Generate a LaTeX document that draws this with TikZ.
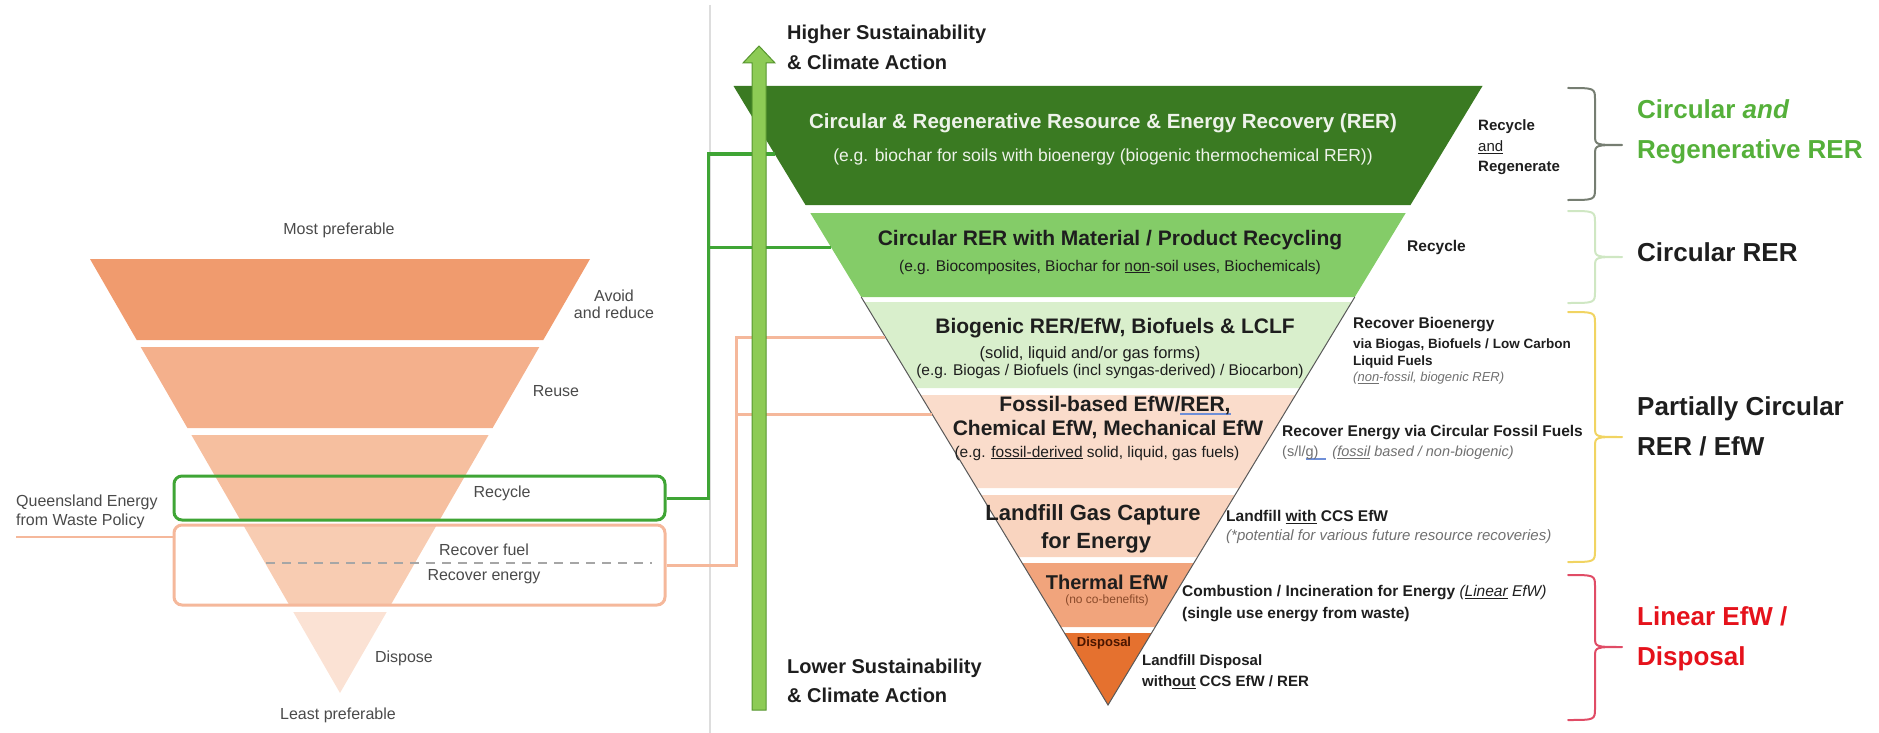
\documentclass[tikz,border=0pt]{standalone}
\usepackage{fontspec}
\setmainfont{Liberation Sans}
\usepackage{tikz}

\definecolor{lb1}{HTML}{F09B6E}
\definecolor{lb2}{HTML}{F4B08C}
\definecolor{lb3}{HTML}{F6BF9F}
\definecolor{lb4}{HTML}{F8CCB2}
\definecolor{lb5}{HTML}{FBE2D4}
\definecolor{rb1}{HTML}{3A7A22}
\definecolor{rb2}{HTML}{84CC68}
\definecolor{rb3}{HTML}{D9EFCC}
\definecolor{rb4}{HTML}{FADCCB}
\definecolor{rb5}{HTML}{F9D4BF}
\definecolor{rb6}{HTML}{F1A47C}
\definecolor{rb7}{HTML}{E5712F}
\definecolor{boxgreen}{HTML}{3FA535}
\definecolor{boxorange}{HTML}{F5B89B}
\definecolor{arrowgreen}{HTML}{8DCB55}
\definecolor{arrowedge}{HTML}{57962F}
\definecolor{lefttxt}{HTML}{4A4A4A}
\definecolor{ink}{HTML}{1E1E1E}
\definecolor{paletxt}{HTML}{EEF3EA}
\definecolor{itgray}{HTML}{707070}
\definecolor{labgreen}{HTML}{55B03A}
\definecolor{labred}{HTML}{E5121B}
\definecolor{spellblue}{HTML}{6F8FD8}
\definecolor{divgray}{HTML}{DDDDDD}
\definecolor{bracegray}{HTML}{767E72}
\definecolor{bracegreen}{HTML}{CFE7C3}
\definecolor{braceyellow}{HTML}{F1D462}
\definecolor{bracered}{HTML}{E04C66}
\definecolor{brownish}{HTML}{8A4A2A}
\definecolor{disptxt}{HTML}{4A1600}

\newcommand{\fs}[1]{\fontsize{#1}{#1}\selectfont}
\newcommand{\blueul}[1]{\sbox0{#1}\rlap{\textcolor{spellblue}{\rule[-3pt]{\wd0}{1.5pt}}}#1}

\begin{document}
\begin{tikzpicture}[x=1pt,y=-1pt,
  every node/.style={inner sep=0pt},
  plbl/.style={text=lefttxt,font=\fs{16}},
  ttl/.style={text=ink,font=\bfseries\fs{21}},
  sub/.style={text=ink,font=\fs{15.5}},
  side/.style={anchor=west,text=ink,font=\bfseries\fs{15.5}},
  sideit/.style={anchor=west,text=itgray,font=\itshape\fs{14.5}},
  biglbl/.style={anchor=west,align=left,font=\bfseries\fontsize{26}{40}\selectfont},
  gline/.style={draw=boxgreen,line width=3pt},
  oline/.style={draw=boxorange,line width=3pt},
  brace/.style={line width=2pt,line cap=round,line join=round},
  pedge/.style={draw=black!65,line width=1pt}]
\useasboundingbox (0,0) rectangle (1879,733);

\fill[lb1] (90,259) -- (590,259) -- (543.3,340) -- (136.7,340) -- cycle;
\fill[lb2] (140.7,347) -- (539.3,347) -- (492.6,428) -- (187.4,428) -- cycle;
\fill[lb3] (191.4,435) -- (488.6,435) -- (440.2,519) -- (239.8,519) -- cycle;
\fill[lb4] (243.8,526) -- (436.2,526) -- (390.7,605) -- (289.3,605) -- cycle;
\fill[lb5] (293.3,612) -- (386.7,612) -- (340,693) -- cycle;

\node[draw=boxorange,line width=3pt,rounded corners=8pt,minimum width=491pt,minimum height=80pt] (recoverbox) at (419.5,565) {};
\node[draw=boxgreen,line width=3pt,rounded corners=8pt,minimum width=491pt,minimum height=44pt] (recyclebox) at (419.5,498) {};
\draw[gray!70,line width=2pt,dash pattern=on 9pt off 7pt] (266,563) -- (652,563);

\node[plbl] (mostpref) at (339,230) {Most preferable};
\node[plbl,align=center,font=\fontsize{16}{17}\selectfont] (avoid) at (614,304) {Avoid\\and reduce};
\node[plbl] (reuse) at (556,391) {Reuse};
\node[plbl] (recycle) at (502,493) {Recycle};
\node[plbl] (recfuel) at (484,550) {Recover fuel};
\node[plbl] (recenergy) at (484,577) {Recover energy};
\node[plbl] (dispose) at (404,658) {Dispose};
\node[plbl] (leastpref) at (338,715) {Least preferable};
\node[plbl,anchor=west,align=left,font=\fontsize{16}{19}\selectfont] (qldpolicy) at (16,512) {Queensland Energy\\from Waste Policy};
\coordinate (qldend) at (16,537);
\draw[draw=boxorange,line width=2pt] (qldend) -- (qldend -| recoverbox.west);

\draw[divgray,line width=2pt] (710,5) -- (710,733);

\fill[rb1] (733.5,86) -- (1482.5,86) -- (1410.5,205) -- (805.5,205) -- cycle;
\fill[rb2] (810.3,213) -- (1405.7,213) -- (1354.8,297) -- (861.2,297) -- cycle;
\fill[rb3] (864.2,302) -- (1351.8,302) -- (1299.8,388) -- (916.2,388) -- cycle;
\fill[rb4] (920.4,395) -- (1295.6,395) -- (1239.3,488) -- (976.7,488) -- cycle;
\fill[rb5] (981,495) -- (1235,495) -- (1197.5,557) -- (1018.5,557) -- cycle;
\fill[rb6] (1022,563) -- (1194,563) -- (1155,627) -- (1061,627) -- cycle;
\fill[rb7] (1064.4,633) -- (1151.6,633) -- (1108,705) -- cycle;
\draw[pedge] (861.2,297) -- (1108,705) -- (1354.8,297);

\coordinate (gjoin1) at (708,154);
\coordinate (gjoin2) at (708,247);
\coordinate (rerband) at (775,154);
\coordinate (circband) at (831,247);
\draw[gline] (recyclebox.east) -| (gjoin1) -- (rerband);
\draw[gline] (gjoin2) -- (circband);
\coordinate (ojoin1) at (736,337);
\coordinate (ojoin2) at (736,414);
\coordinate (bioband) at (885,337);
\coordinate (fosband) at (932,414);
\draw[oline] (recoverbox.east) -| (ojoin1) -- (bioband);
\draw[oline] (ojoin2) -- (fosband);

\draw[fill=arrowgreen,draw=arrowedge,line width=1pt] (752,710) -- (752,63) -- (743,63) -- (759,46) -- (775,63) -- (766,63) -- (766,710) -- cycle;

\node[anchor=west,align=left,text=ink,font=\bfseries\fontsize{20}{30}\selectfont] (higher) at (787,47) {Higher Sustainability\\\& Climate Action};
\node[anchor=west,align=left,text=ink,font=\bfseries\fontsize{20}{29}\selectfont] (lower) at (787,681) {Lower Sustainability\\\& Climate Action};

\node[ttl,text=paletxt,font=\bfseries\fs{20.5}] (rertitle) at (1103,123) {Circular \& Regenerative Resource \& Energy Recovery (RER)};
\node[sub,text=paletxt,font=\fs{17.5}] (rerex) at (1103,157) {(e.g. biochar for soils with bioenergy (biogenic thermochemical RER))};
\node[ttl] (circtitle) at (1110,240) {Circular RER with Material / Product Recycling};
\node[sub] (circex) at (1110,267) {(e.g. Biocomposites, Biochar for \underline{non}-soil uses, Biochemicals)};
\node[ttl] (biotitle) at (1115,328) {Biogenic RER/EfW, Biofuels \& LCLF};
\node[sub,font=\fs{16.5}] (bioforms) at (1090,354) {(solid, liquid and/or gas forms)};
\node[sub] (bioex) at (1110,371) {(e.g. Biogas / Biofuels (incl syngas-derived) / Biocarbon)};
\node[ttl] (fostitle) at (1115,406) {Fossil-based EfW/\blueul{RER,}};
\node[ttl] (fostitleb) at (1108,430) {Chemical EfW, Mechanical EfW};
\node[sub] (fosex) at (1097,453) {(e.g. \underline{fossil-derived} solid, liquid, gas fuels)};
\node[ttl,font=\bfseries\fs{22}] (lfgtitle) at (1093,515) {Landfill Gas Capture};
\node[ttl,font=\bfseries\fs{22}] (lfgtitleb) at (1096,543) {for Energy};
\node[ttl,font=\bfseries\fs{20}] (thermtitle) at (1107,582) {Thermal EfW};
\node[sub,text=brownish,font=\fs{12}] (thermnote) at (1107,600) {(no co-benefits)};
\node[ttl,text=disptxt,font=\bfseries\fs{13}] (disptitle) at (1104,643) {Disposal};

\node[side,font=\bfseries\fs{15}] (rrside1) at (1478,127) {Recycle};
\node[side,font=\fs{15}] (rrside2) at (1478,147) {\underline{and}};
\node[side,font=\bfseries\fs{15}] (rrside3) at (1478,168) {Regenerate};
\node[side] (circside) at (1407,247) {Recycle};
\node[side] (bioside1) at (1353,325) {Recover Bioenergy};
\node[side,font=\bfseries\fs{13.5}] (bioside2) at (1353,345) {via Biogas, Biofuels / Low Carbon};
\node[side,font=\bfseries\fs{13.5}] (bioside3) at (1353,362) {Liquid Fuels};
\node[sideit,font=\itshape\fs{13}] (bioside4) at (1353,378) {(\underline{non}-fossil, biogenic RER)};
\node[side] (fosside1) at (1282,433) {Recover Energy via Circular Fossil Fuels};
\node[side,text=itgray,font=\fs{14.5}] (fosside2) at (1282,453) {(s/l/\blueul{g)\hspace{8pt}}\hspace{6pt}\textit{(\underline{fossil} based / non-biogenic)}};
\node[side] (lfgside1) at (1226,517) {Landfill \underline{with} CCS EfW};
\node[sideit,font=\itshape\fs{15}] (lfgside2) at (1226,537) {(*potential for various future resource recoveries)};
\node[side] (thermside1) at (1182,593) {Combustion / Incineration for Energy \textmd{\textit{(\underline{Linear} EfW)}}};
\node[side] (thermside2) at (1182,615) {(single use energy from waste)};
\node[side,font=\bfseries\fs{15}] (dispside1) at (1142,662) {Landfill Disposal};
\node[side,font=\bfseries\fs{15}] (dispside2) at (1142,682) {with\underline{out} CCS EfW / RER};

\draw[brace,bracegray] (1568,88) .. controls (1595,88) .. (1595,100) -- (1595,135) .. controls (1595,145) .. (1622,145) .. controls (1595,145) .. (1595,155) -- (1595,188) .. controls (1595,200) .. (1568,200);
\draw[brace,bracegreen] (1568,211) .. controls (1595,211) .. (1595,223) -- (1595,247) .. controls (1595,257) .. (1622,257) .. controls (1595,257) .. (1595,267) -- (1595,291) .. controls (1595,303) .. (1568,303);
\draw[brace,braceyellow] (1568,312) .. controls (1595,312) .. (1595,324) -- (1595,427) .. controls (1595,437) .. (1622,437) .. controls (1595,437) .. (1595,447) -- (1595,550) .. controls (1595,562) .. (1568,562);
\draw[brace,bracered] (1568,575) .. controls (1595,575) .. (1595,587) -- (1595,637) .. controls (1595,647) .. (1622,647) .. controls (1595,647) .. (1595,657) -- (1595,708) .. controls (1595,720) .. (1568,720);

\node[biglbl,text=labgreen] (regenlbl) at (1637,132) {Circular \textit{and}\\Regenerative RER};
\node[biglbl,text=ink] (circlbl) at (1637,252) {Circular RER};
\node[biglbl,text=ink] (partlbl) at (1637,426) {Partially Circular\\RER / EfW};
\node[biglbl,text=labred] (linlbl) at (1637,639) {Linear EfW /\\Disposal};
\end{tikzpicture}
\end{document}
